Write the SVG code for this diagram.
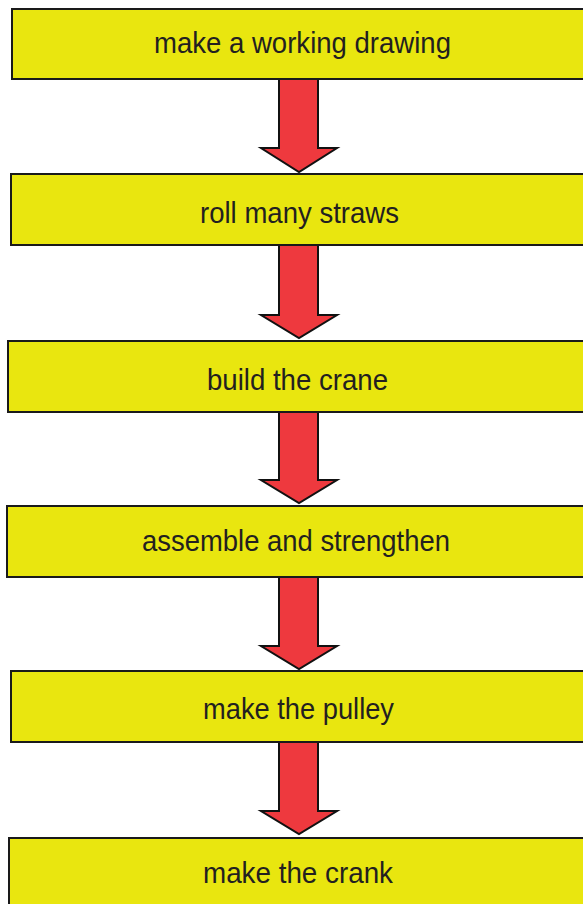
<svg xmlns="http://www.w3.org/2000/svg" width="583" height="904" viewBox="0 0 583 904">
<style>
.box{fill:#E9E60F;stroke:#1a1a1a;stroke-width:2}
.lbl{font-family:"Liberation Sans",Arial,sans-serif;font-size:30px;fill:#231F20}
.arr{fill:#EE393E;stroke:#111;stroke-width:2;stroke-linejoin:miter}
</style>
<rect width="583" height="904" fill="#fff"/>
<g id="connectors">
<polygon class="arr" points="279,79 318,79 318,148 337,148 299,172 261,148 279,148"/>
<polygon class="arr" points="279,245 318,245 318,315 337,315 299,338 261,315 279,315"/>
<polygon class="arr" points="279,412 318,412 318,480 337,480 299,503 261,480 279,480"/>
<polygon class="arr" points="279,577 318,577 318,646 337,646 299,669 261,646 279,646"/>
<polygon class="arr" points="279,742 318,742 318,811 337,811 299,834 261,811 279,811"/>
</g>
<g id="n1"><rect class="box" x="12" y="9" width="590" height="70"/><text class="lbl" x="154" y="53" textLength="297" lengthAdjust="spacingAndGlyphs">make a working drawing</text></g>
<g id="n2"><rect class="box" x="11" y="174" width="590" height="71"/><text class="lbl" x="200" y="223" textLength="199" lengthAdjust="spacingAndGlyphs">roll many straws</text></g>
<g id="n3"><rect class="box" x="8" y="341" width="590" height="71"/><text class="lbl" x="207" y="390" textLength="181" lengthAdjust="spacingAndGlyphs">build the crane</text></g>
<g id="n4"><rect class="box" x="7" y="506" width="590" height="71"/><text class="lbl" x="142" y="551" textLength="308" lengthAdjust="spacingAndGlyphs">assemble and strengthen</text></g>
<g id="n5"><rect class="box" x="11" y="671" width="590" height="71"/><text class="lbl" x="203" y="719" textLength="191" lengthAdjust="spacingAndGlyphs">make the pulley</text></g>
<g id="n6"><rect class="box" x="9" y="838" width="590" height="80"/><text class="lbl" x="203" y="883" textLength="190" lengthAdjust="spacingAndGlyphs">make the crank</text></g>
</svg>
